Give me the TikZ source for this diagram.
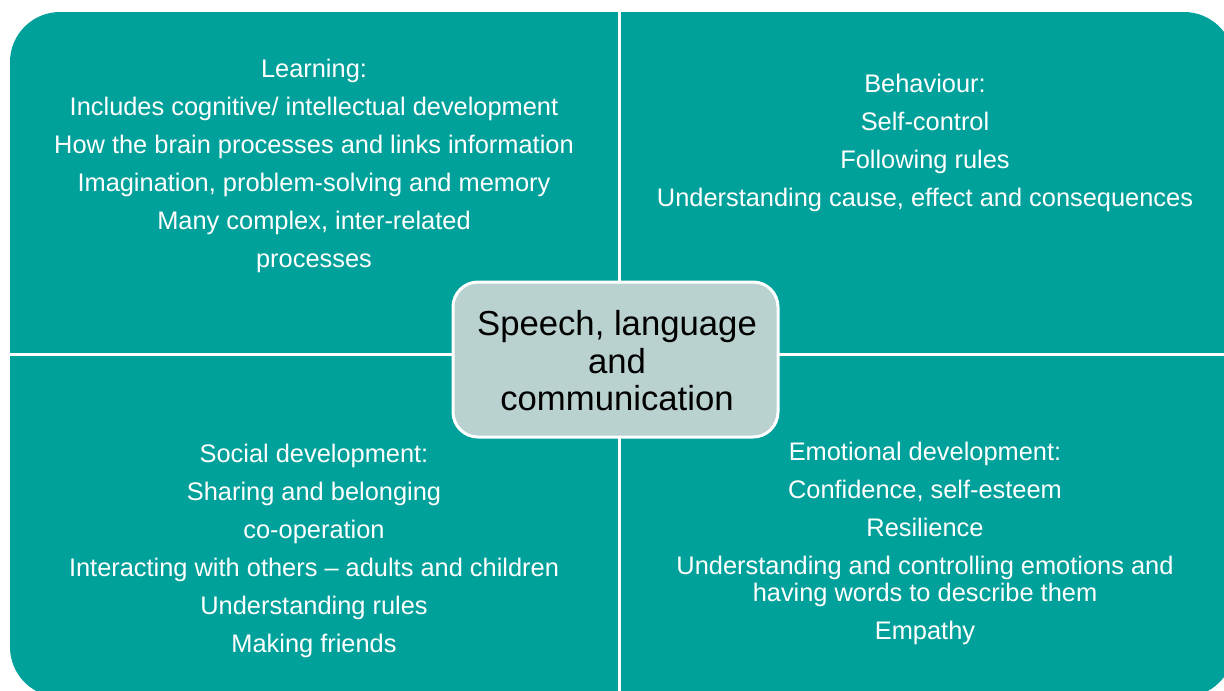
\documentclass[tikz,border=0pt]{standalone}
\usepackage{fontspec}
\setmainfont{Liberation Sans}
\usetikzlibrary{positioning}
\definecolor{teal}{HTML}{00A19A}
\definecolor{hubfill}{HTML}{B9D1CF}

\begin{document}
\begin{tikzpicture}[x=1pt, y=-1pt,
    quadtext/.style={text=white, align=center, font=\fontsize{25.4}{38}\selectfont},
    hubbox/.style={draw=white, line width=3pt, fill=hubfill, rounded corners=25pt,
        minimum width=325pt, minimum height=155pt}]

    \useasboundingbox (0,0) rectangle (1224,691);
    \clip (0,0) rectangle (1224,691);

    % background and dividers
    \fill[teal, rounded corners=50pt] (10,12) rectangle (1234,697);
    \draw[white, line width=3pt] (619,12) -- (619,697);
    \draw[white, line width=3pt] (10,354) -- (1234,354);

    \node[hubbox] (hub) at (615.5,359.5) {};
    \node (hubtext) at (617,361) [align=center, font=\fontsize{34.7}{37.5}\selectfont]
        {Speech, language\\and\\communication};

    \node[quadtext] (learning) at (314,165.5)
        {Learning:\\Includes cognitive/ intellectual development\\How the brain processes and links information\\Imagination, problem-solving and memory\\Many complex, inter-related\\processes};
    \node[quadtext] (behaviour) at (925,142.5)
        {Behaviour:\\Self-control\\Following rules\\Understanding cause, effect and consequences};
    \node[quadtext] (social) at (314,551)
        {Social development:\\Sharing and belonging\\co-operation\\Interacting with others -- adults and children\\Understanding rules\\Making friends};
    \node[quadtext] (emotional) at (925,543.5)
        {Emotional development:\\Confidence, self-esteem\\Resilience\\Understanding and controlling emotions and\\[-11pt]having words to describe them\\Empathy};

\end{tikzpicture}
\end{document}
